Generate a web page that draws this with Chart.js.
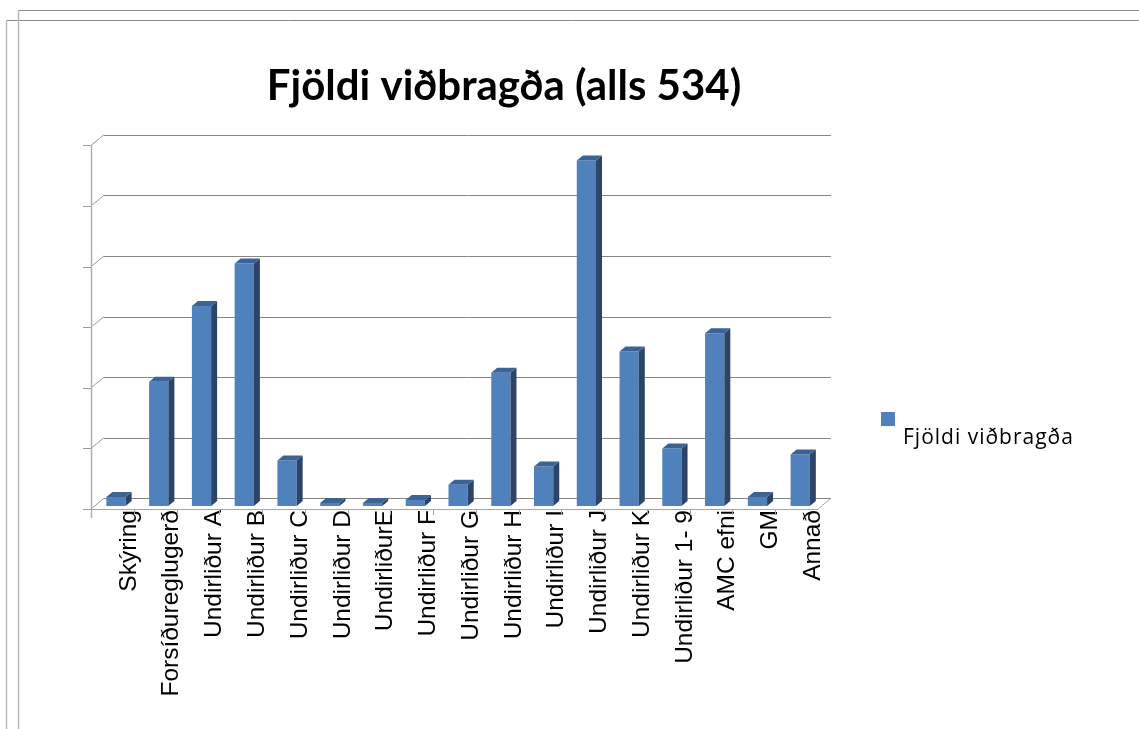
<!DOCTYPE html>
<html>
<head>
<meta charset="utf-8">
<script src="https://cdn.jsdelivr.net/npm/chart.js@4.4.1/dist/chart.umd.min.js"></script>
<style>
  html, body { margin: 0; padding: 0; background: #fff; }
  #chart { display: block; }
</style>
</head>
<body>
<canvas id="chart" width="1139" height="729"></canvas>
<script>
const categories = [
  "Skýring", "Forsíðureglugerð", "Undirliður A", "Undirliður B", "Undirliður C",
  "Undirliður D", "UndirliðurE", "Undirliður F", "Undirliður G", "Undirliður H",
  "Undirliður I", "Undirliður J", "Undirliður K", "Undirliður 1- 9", "AMC efni",
  "GM", "Annað"
];
const responses = [3, 41, 66, 80, 15, 1, 1, 2, 7, 44, 13, 114, 51, 19, 57, 3, 17];
const seriesName = "Fjöldi viðbragða";
const chartTitle = "Fjöldi viðbragða (alls 534)";
const yTicks = [0, 20, 40, 60, 80, 100, 120];

const barColor = "#4F81BD";
const sideColor = "#2B4468";
const topColor = "#3B6396";
const lineColor = "#868686";

// depth of the 3d box and of each bar
const wall = { dx: 9.4, dy: -7.7 };
const front = { dx: -3.6, dy: 3 };
const bar3d = { dx: 6, dy: -5 };

const frame3d = {
  id: "frame3d",
  beforeDatasetsDraw(chart) {
    const { ctx, chartArea: a, scales } = chart;
    const y = scales.y;
    ctx.save();
    ctx.lineWidth = 1;

    // outer frames
    ctx.strokeStyle = "#8a8a8a";
    ctx.beginPath();
    ctx.moveTo(1139, 10.5); ctx.lineTo(18.5, 10.5);
    ctx.moveTo(1139, 20.5); ctx.lineTo(6.5, 20.5);
    ctx.stroke();
    ctx.strokeStyle = "#b8b8b8";
    ctx.lineWidth = 1.5;
    ctx.beginPath();
    ctx.moveTo(18.5, 10.5); ctx.lineTo(18.5, 729);
    ctx.moveTo(6.5, 20.5); ctx.lineTo(6.5, 729);
    ctx.stroke();
    ctx.lineWidth = 1;

    const fx = a.left + front.dx;
    const bx = a.left + wall.dx;
    const fRight = a.right + front.dx;
    const bRight = a.right + wall.dx;

    // back wall gridlines, diagonals and front ticks
    yTicks.forEach(v => {
      const py = y.getPixelForValue(v);
      ctx.strokeStyle = lineColor;
      ctx.beginPath();
      ctx.moveTo(bx, Math.round(py + wall.dy) + 0.5);
      ctx.lineTo(bRight, Math.round(py + wall.dy) + 0.5);
      ctx.stroke();
      ctx.strokeStyle = "#9a9a9a";
      ctx.beginPath();
      ctx.moveTo(fx, py + front.dy);
      ctx.lineTo(bx, py + wall.dy);
      ctx.moveTo(fx - 8, Math.round(py + front.dy) + 0.5);
      ctx.lineTo(fx, Math.round(py + front.dy) + 0.5);
      ctx.stroke();
    });

    // floor front edge and right corner
    const base = y.getPixelForValue(0);
    ctx.strokeStyle = "#a6a6a6";
    ctx.beginPath();
    ctx.moveTo(fx, Math.round(base + front.dy) + 0.5);
    ctx.lineTo(fRight, Math.round(base + front.dy) + 0.5);
    ctx.moveTo(fRight, base + front.dy);
    ctx.lineTo(bRight, base + wall.dy);
    ctx.stroke();

    // category tick marks
    const band = (a.right - a.left) / categories.length;
    ctx.beginPath();
    for (let k = 1; k < categories.length; k++) {
      const px = Math.round(fx + band * k) + 0.5;
      ctx.moveTo(px, base + front.dy);
      ctx.lineTo(px, base + front.dy + 6);
    }
    ctx.stroke();

    // front vertical axis
    ctx.strokeStyle = "#b0b0b0";
    ctx.lineWidth = 1.5;
    ctx.beginPath();
    ctx.moveTo(Math.round(fx) + 0.5, y.getPixelForValue(120) + front.dy);
    ctx.lineTo(Math.round(fx) + 0.5, base + front.dy + 9);
    ctx.stroke();
    ctx.restore();
  },
  afterDatasetsDraw(chart) {
    const { ctx } = chart;
    const meta = chart.getDatasetMeta(0);
    ctx.save();
    meta.data.forEach(el => {
      const p = el.getProps(["x", "y", "base", "width"], true);
      const l = p.x - p.width / 2, r = p.x + p.width / 2;
      // side face
      ctx.fillStyle = sideColor;
      ctx.beginPath();
      ctx.moveTo(r, p.y);
      ctx.lineTo(r + bar3d.dx, p.y + bar3d.dy);
      ctx.lineTo(r + bar3d.dx, p.base + bar3d.dy);
      ctx.lineTo(r, p.base);
      ctx.closePath();
      ctx.fill();
      // top face
      ctx.fillStyle = topColor;
      ctx.beginPath();
      ctx.moveTo(l, p.y);
      ctx.lineTo(l + bar3d.dx, p.y + bar3d.dy);
      ctx.lineTo(r + bar3d.dx, p.y + bar3d.dy);
      ctx.lineTo(r, p.y);
      ctx.closePath();
      ctx.fill();
    });
    ctx.restore();
  },
  afterDraw(chart) {
    const { ctx } = chart;
    const ds = chart.data.datasets[0];
    ctx.save();
    // title, centred on the whole chart box rather than the plot
    ctx.fillStyle = "#000";
    ctx.textAlign = "center";
    ctx.textBaseline = "alphabetic";
    ctx.font = "bold 42px Lato, 'Open Sans', sans-serif";
    ctx.fillText(chartTitle, 504, 99.5);
    // legend, box sits above the text like in the original
    ctx.textAlign = "left";
    ctx.fillStyle = ds.backgroundColor;
    ctx.fillRect(881, 412, 14, 14);
    ctx.fillStyle = "#000";
    ctx.font = "21px 'Open Sans', sans-serif";
    ctx.letterSpacing = "1px";
    ctx.fillText(ds.label, 903, 444);
    ctx.restore();
  }
};

Chart.defaults.font.family = "'Liberation Sans', Arial, sans-serif";

const ctx = document.getElementById("chart");
new Chart(ctx, {
  type: "bar",
  data: {
    labels: categories,
    datasets: [
      {
        label: seriesName,
        data: responses,
        backgroundColor: barColor,
        borderWidth: 0,
        categoryPercentage: 1,
        barPercentage: 0.45
      }
    ]
  },
  options: {
    responsive: false,
    animation: false,
    layout: {
      padding: { left: 94.6, right: 317.4, top: 142.4, bottom: 0 }
    },
    plugins: {
      legend: { display: false },
      tooltip: { enabled: false },
      title: { display: false }
    },
    scales: {
      x: {
        grid: { display: false, drawTicks: false },
        border: { display: false },
        ticks: {
          autoSkip: false,
          minRotation: 90,
          maxRotation: 90,
          labelOffset: 13,
          padding: 4,
          color: "#000",
          font: { size: 24.5 }
        },
        afterFit(scale) {
          scale.height = 223;
        }
      },
      y: {
        display: false,
        min: 0,
        max: 120
      }
    }
  },
  plugins: [frame3d]
});
</script>
</body>
</html>
